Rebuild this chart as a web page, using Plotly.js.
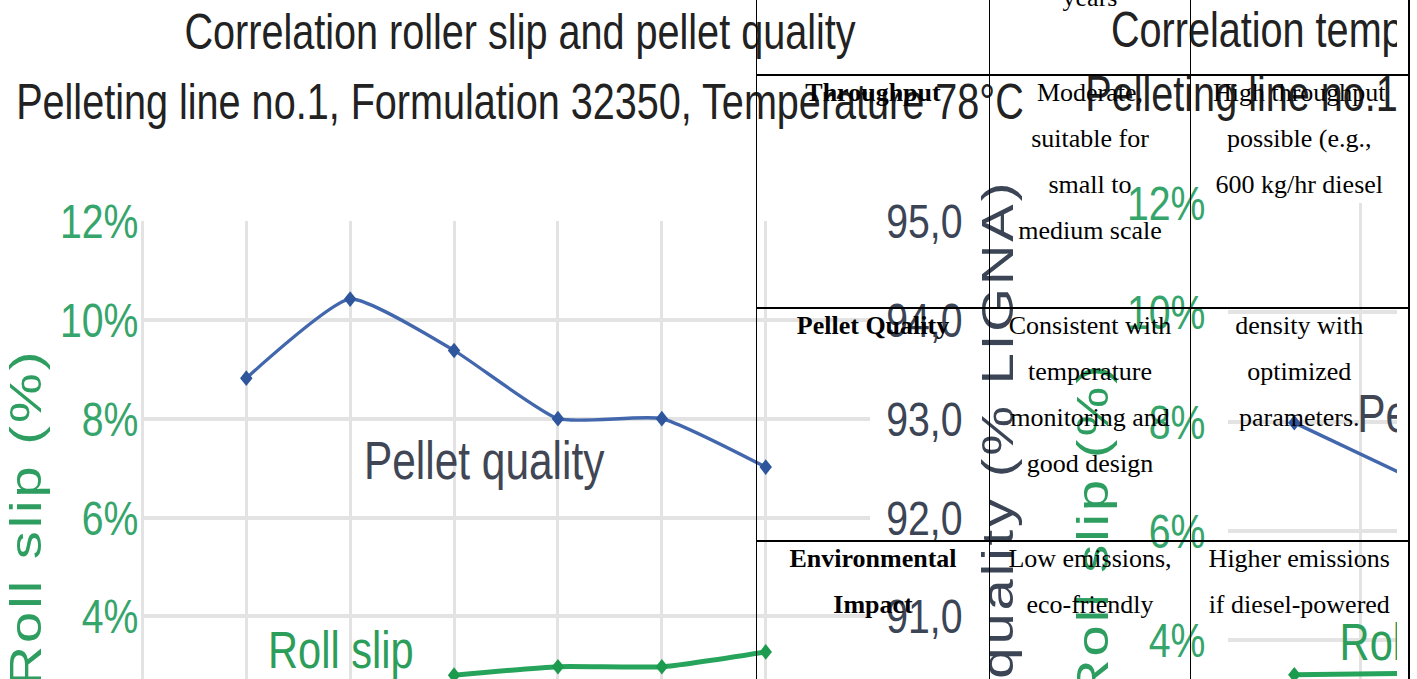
<!DOCTYPE html>
<html>
<head>
<meta charset="utf-8">
<script src="https://cdn.plot.ly/plotly-3.0.1.min.js"></script>
<style>
html,body{margin:0;padding:0;width:1417px;height:679px;overflow:hidden;background:#fff;}
/* the source chart images are drawn horizontally compressed: render wider, then scale x by 0.8 */
#chart1{position:absolute;left:0;top:0;width:1300px;height:914px;z-index:1;transform:scaleX(0.8);transform-origin:0 0;}
#clip2{position:absolute;left:1030px;top:0;width:367px;height:679px;overflow:hidden;z-index:2;background:#fff;}
#chart2{position:absolute;left:0;top:0;width:1250px;height:959px;transform:scaleX(0.8);transform-origin:0 0;}
#tbl{position:absolute;left:756px;top:-159px;z-index:3;border-collapse:collapse;table-layout:fixed;width:652px;
  font-family:'Liberation Serif','Times New Roman',serif;font-size:26px;line-height:46px;color:#000;}
#tbl td{border-left:1px solid #000;border-right:1px solid #000;border-top:2px solid #000;border-bottom:2px solid #000;
  vertical-align:top;text-align:center;padding:0 4px;height:233px;box-sizing:border-box;overflow:visible;}
#tbl td:last-child{border-right:2px solid #000;}
#tbl td div{position:relative;top:-6px;}
#tbl td.h{font-weight:bold;}
.ytitle,.y2title{letter-spacing:3px;}
</style>
</head>
<body>
<div id="chart1"></div>
<div id="clip2"><div id="chart2"></div></div>
<table id="tbl"><colgroup><col style="width:233px"><col style="width:201px"><col style="width:218px"></colgroup><tbody id="tbody"></tbody></table>
<script>
// ---------- data: chart 1 (roller slip vs pellet quality) ----------
const samples = [1, 2, 3, 4, 5, 6];
const pelletQuality = [93.41, 94.21, 93.69, 93.00, 93.00, 92.51];   // % LIGNA (right axis)
const slipSamples = [3, 4, 5, 6];
const rollSlip = [2.81, 2.98, 2.98, 3.28];                           // % (left axis)
const title1 = "Correlation roller slip and pellet quality";
const subtitle1 = "Pelleting line no.1, Formulation 32350, Temperature 78°C";

// ---------- data: chart 2 (temperature vs pellet quality, partly visible) ----------
const samples2 = [1, 2];
const pelletQuality2 = [92.99, 92.42];
const rollSlip2 = [3.37, 3.40];
const title2 = "Correlation temperature and pellet quality";
const subtitle2 = "Pelleting line no.1, Formulation 32350";

// ---------- table ----------
const colFeature = ["", "Throughput", "Pellet Quality", "Environmental<br>Impact"];
const colSmall = ["<br><br><br>years", "Moderate,<br>suitable for<br>small to<br>medium scale",
                  "Consistent with<br>temperature<br>monitoring and<br>good design", "Low emissions,<br>eco-friendly"];
const colLarge = ["", "High throughput<br>possible (e.g.,<br>600 kg/hr diesel",
                  "density with<br>optimized<br>parameters.", "Higher emissions<br>if diesel-powered"];

const tbody = document.getElementById('tbody');
for (let i = 0; i < colFeature.length; i++) {
  const tr = document.createElement('tr');
  [[colFeature[i], 'h'], [colSmall[i], ''], [colLarge[i], '']].forEach(([t, c]) => {
    const td = document.createElement('td');
    if (c) td.className = c;
    td.innerHTML = '<div>' + t + '</div>';
    tr.appendChild(td);
  });
  tbody.appendChild(tr);
}

const SANS = "'Liberation Sans',Arial,sans-serif";
const BLUE = '#4267ac', GREEN = '#27a45b', GRID = '#e3e3e3';
const GREEN_TXT = '#36a56c', DARK_TXT = '#3b4555';

function traces(xq, yq, xs, ys) {
  return [
    {x: xq, y: yq, yaxis: 'y2', type: 'scatter', mode: 'lines+markers',
     line: {color: BLUE, width: 3.5, shape: 'spline', smoothing: 0.5},
     marker: {symbol: 'diamond', size: 12, color: '#2f569c'}},
    {x: xs, y: ys, yaxis: 'y', type: 'scatter', mode: 'lines+markers',
     line: {color: GREEN, width: 5, shape: 'spline', smoothing: 0.5},
     marker: {symbol: 'diamond', size: 12, color: '#1c9a4e'}}
  ];
}

// ---------- chart 1 (virtual width 1300 -> 1040 on the page) ----------
const H1 = 914;
Plotly.newPlot('chart1', traces(samples, pelletQuality, slipSamples, rollSlip), {
  width: 1300, height: H1,
  margin: {l: 177.5, r: 212.5, t: 221, b: 100, pad: 0},
  paper_bgcolor: '#fff', plot_bgcolor: '#fff', showlegend: false, separators: ',.',
  title: {text: title1, font: {family: SANS, size: 49.5, color: '#222'},
          x: 0.5, xref: 'container', xanchor: 'center', y: 1 - 32 / H1, yref: 'container', yanchor: 'middle'},
  xaxis: {range: [0, 7], tick0: 0, dtick: 1, showgrid: true, gridcolor: GRID, gridwidth: 3.75,
          zeroline: true, zerolinecolor: GRID, zerolinewidth: 3.75,
          showticklabels: false, showline: false, ticks: ''},
  yaxis: {range: [0, 12], tick0: 0, dtick: 2, ticksuffix: '%', showgrid: true, gridcolor: GRID, gridwidth: 4,
          zeroline: false, showline: false, ticks: '', ticklabelstandoff: 4,
          tickfont: {family: SANS, size: 49, color: GREEN_TXT},
          title: {text: 'Roll slip (%)', font: {family: SANS, size: 56, color: '#2e9e60'}, standoff: 23}},
  yaxis2: {overlaying: 'y', side: 'right', range: [89, 95], tick0: 89, dtick: 1, tickformat: '.1f',
           showgrid: false, zeroline: false, ticks: 'outside', ticklen: 10, tickcolor: 'rgba(0,0,0,0)',
           tickfont: {family: SANS, size: 49, color: DARK_TXT},
           title: {text: 'Pellet quality (% LIGNA)', font: {family: SANS, size: 56, color: DARK_TXT}, standoff: 24}},
  annotations: [
    {text: subtitle1, xref: 'paper', yref: 'paper', x: (520 - 142) / 728, y: 1 + (221 - 101) / 593,
     xanchor: 'center', yanchor: 'middle', showarrow: false, font: {family: SANS, size: 49.5, color: '#222'}},
    {text: 'Pellet quality', xref: 'x', yref: 'y', x: 3.293, y: 7.16, xanchor: 'center', yanchor: 'middle',
     showarrow: false, font: {family: SANS, size: 53, color: '#404654'}},
    {text: 'Roll slip', xref: 'x', yref: 'y', x: 1.91, y: 3.32, xanchor: 'center', yanchor: 'middle',
     showarrow: false, font: {family: SANS, size: 52, color: '#2c9e5a'}}
  ]
}, {displayModeBar: false, staticPlot: true});

// ---------- chart 2 (virtual width 1250 -> 1000 on the page, clipped) ----------
const H2 = 959;
Plotly.newPlot('chart2', traces(samples2, pelletQuality2, samples2, rollSlip2), {
  width: 1250, height: H2,
  margin: {l: 247.5, r: 177.5, t: 203, b: 100, pad: 0},
  paper_bgcolor: '#fff', plot_bgcolor: '#fff', showlegend: false, separators: ',.',
  title: {text: title2, font: {family: SANS, size: 49.5, color: '#222'},
          x: 101.25 / 1250, xref: 'container', xanchor: 'left', y: 1 - 30 / H2, yref: 'container', yanchor: 'middle'},
  xaxis: {range: [0.5, 5.5], tick0: 0.5, dtick: 1, showgrid: true, gridcolor: GRID, gridwidth: 3.75,
          showticklabels: false, zeroline: false, showline: false, ticks: ''},
  yaxis: {range: [0, 12], tick0: 0, dtick: 2, ticksuffix: '%', showgrid: true, gridcolor: GRID, gridwidth: 4,
          zeroline: false, showline: false,
          ticks: 'outside', ticklen: 18, tickcolor: 'rgba(0,0,0,0)',
          tickfont: {family: SANS, size: 49, color: GREEN_TXT},
          title: {text: 'Roll slip (%)', font: {family: SANS, size: 56, color: '#2e9e60'}, standoff: 4}},
  yaxis2: {overlaying: 'y', side: 'right', range: [89, 95], tick0: 89, dtick: 1, tickformat: '.1f',
           showgrid: false, zeroline: false,
           tickfont: {family: SANS, size: 49, color: DARK_TXT}},
  annotations: [
    {text: subtitle2, xref: 'paper', yref: 'paper', x: (1083 - 1228) / 660, y: 1 + (203 - 94) / 656,
     xanchor: 'left', yanchor: 'middle', showarrow: false, font: {family: SANS, size: 49.5, color: '#222'}},
    {text: 'Pellet quality', xref: 'x', yref: 'y', x: 1.462, y: 8.15, xanchor: 'left', yanchor: 'middle',
     showarrow: false, font: {family: SANS, size: 53, color: '#404654'}},
    {text: 'Roll slip', xref: 'x', yref: 'y', x: 1.333, y: 3.97, xanchor: 'left', yanchor: 'middle',
     showarrow: false, font: {family: SANS, size: 52, color: '#2c9e5a'}}
  ]
}, {displayModeBar: false, staticPlot: true});
</script>
</body>
</html>
